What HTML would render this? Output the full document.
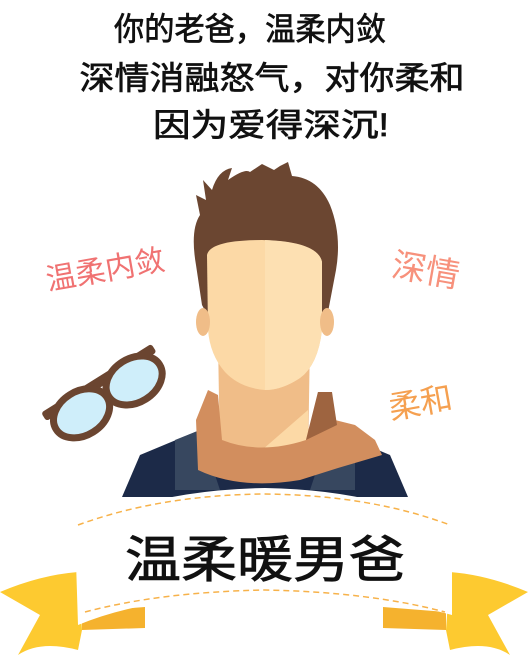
<!DOCTYPE html>
<html><head><meta charset="utf-8"><style>
html,body{margin:0;padding:0;background:#fff;}
svg{display:block;}
text{font-family:"Liberation Sans","Noto Sans CJK SC","WenQuanYi Zen Hei",sans-serif;}
</style></head><body>
<svg width="528" height="657" viewBox="0 0 528 657">
<g fill="#111" stroke="#111" stroke-width="0.7" font-size="32" text-anchor="middle">
<text x="250" y="40" textLength="272" lengthAdjust="spacingAndGlyphs">你的老爸，温柔内敛</text>
<text x="272" y="89" textLength="385" lengthAdjust="spacingAndGlyphs">深情消融怒气，对你柔和</text>
<text x="271" y="136" textLength="236" lengthAdjust="spacingAndGlyphs">因为爱得深沉!</text>
</g>
<text x="105" y="280" font-size="30" fill="#f07272" text-anchor="middle" transform="rotate(-10 105 268)">温柔内敛</text>
<text x="426" y="282" font-size="34" fill="#f7917c" text-anchor="middle" transform="rotate(10 426 270)">深情</text>
<text x="420" y="414" font-size="32" fill="#f5a050" text-anchor="middle" transform="rotate(-10 420 400)">柔和</text>
<g transform="rotate(-32 100 390)">
<rect x="38" y="378" width="130" height="10" rx="3" fill="#6b4530"/>
<ellipse cx="72" cy="400" rx="30" ry="22" fill="#cfeefa" stroke="#6b4530" stroke-width="7"/>
<ellipse cx="134" cy="400" rx="30" ry="22" fill="#cfeefa" stroke="#6b4530" stroke-width="7"/>
</g>
<g>
<path d="M122 497 L140 455 L200 430 L330 430 L390 455 L408 497 Z" fill="#1c2a48"/>
<path d="M175 440 L200 430 L220 490 L175 490 Z M355 440 L330 430 L310 490 L355 490 Z" fill="#37475f"/>
<path d="M218 340 L310 340 L308 460 L220 460 Z" fill="#f0bd88"/>
<path d="M262 450 L308 410 L308 460 L225 465 Z" fill="#fcd9a6"/>
<path d="M208 390 L196 420 L198 470 Q240 490 300 480 L338 468 L382 455 L375 440 L355 425 L335 420 L330 392 L318 392 L306 440 Q260 455 222 440 L218 395 Z" fill="#d28e5e"/>
<path d="M318 392 L332 392 L337 425 L306 440 Z" fill="#9e6440"/>
<path d="M196 265 Q190 230 200 215 L196 195 L206 200 L203 180 L212 190 Q218 170 232 168 L228 180 Q245 168 250 172 L262 164 L274 170 L280 166 L288 162 L292 176 Q318 178 330 205 Q342 235 336 270 L328 312 L320 320 L210 320 L202 305 Z" fill="#6b4631"/>
<path d="M207 255 Q210 240 262 240 Q318 242 322 262 L322 330 Q318 365 300 378 Q282 390 265 390 Q240 388 225 372 Q210 355 208 330 Z" fill="#fcd9a6"/>
<path d="M265 240 Q318 242 322 262 L322 330 Q318 365 300 378 Q282 390 265 390 Z" fill="#fde0b2"/>
<ellipse cx="203" cy="322" rx="7" ry="14" fill="#f0bd88"/>
<ellipse cx="327" cy="322" rx="7" ry="14" fill="#f0bd88"/>
</g>
<g>
<path d="M0 592 Q40 575 78 572 L82 630 L78 650 Q40 640 18 655 L40 615 Z" fill="#fdca30"/>
<path d="M528 592 Q488 575 450 572 L446 630 L450 650 Q488 640 510 655 L488 615 Z" fill="#fdca30"/>
<path d="M82 612 L145 607 L145 628 L82 630 Z M446 612 L383 607 L383 628 L446 630 Z" fill="#f5b22e"/>
<path d="M75 530 Q150 490 265 488 Q380 490 452 530 L452 615 Q380 595 265 595 Q150 595 78 625 Z" fill="#fff"/>
<path d="M78 525 Q160 495 265 494 Q370 495 450 525" fill="none" stroke="#f7b24a" stroke-width="1.5" stroke-dasharray="6 4"/>
<path d="M85 612 Q160 592 265 590 Q370 592 445 612" fill="none" stroke="#f7b24a" stroke-width="1.5" stroke-dasharray="6 4"/>
<text x="265" y="577" font-size="50" fill="#111" stroke="#111" stroke-width="0.8" text-anchor="middle" textLength="280" lengthAdjust="spacingAndGlyphs">温柔暖男爸</text>
</g>
</svg>
</body></html>
